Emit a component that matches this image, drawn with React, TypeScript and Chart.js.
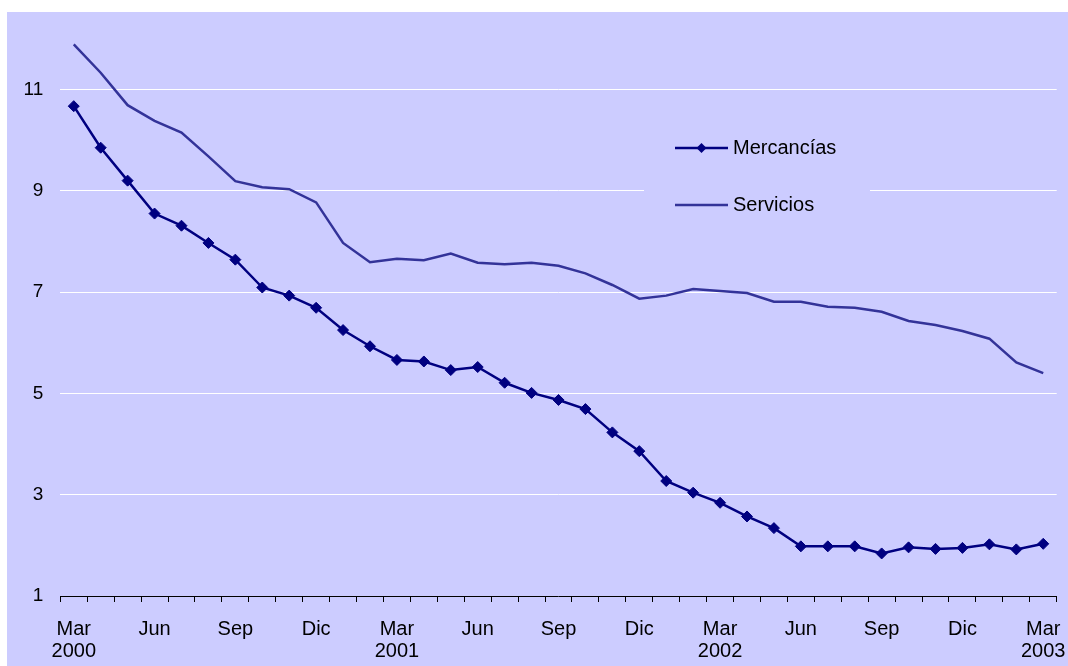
import React, { useEffect, useRef } from "react";
import { Chart, registerables } from "chart.js";

Chart.register(...registerables);

const categories = [
  "Mar 2000", "Abr 2000", "May 2000", "Jun 2000", "Jul 2000", "Ago 2000", "Sep 2000", "Oct 2000", "Nov 2000", "Dic 2000",
  "Ene 2001", "Feb 2001", "Mar 2001", "Abr 2001", "May 2001", "Jun 2001", "Jul 2001", "Ago 2001", "Sep 2001", "Oct 2001", "Nov 2001", "Dic 2001",
  "Ene 2002", "Feb 2002", "Mar 2002", "Abr 2002", "May 2002", "Jun 2002", "Jul 2002", "Ago 2002", "Sep 2002", "Oct 2002", "Nov 2002", "Dic 2002",
  "Ene 2003", "Feb 2003", "Mar 2003",
];

const mercancias = [
  10.67, 9.85, 9.2, 8.55, 8.31, 7.97, 7.64, 7.09, 6.93, 6.69, 6.25, 5.93, 5.66, 5.63, 5.46, 5.52, 5.21, 5.01, 4.87,
  4.69, 4.23, 3.86, 3.27, 3.04, 2.84, 2.57, 2.34, 1.98, 1.98, 1.98, 1.84, 1.96, 1.93, 1.95, 2.02, 1.92, 2.03,
];

const servicios = [
  11.89, 11.33, 10.69, 10.38, 10.15, 9.68, 9.19, 9.07, 9.03, 8.77, 7.97, 7.59, 7.66, 7.63, 7.76, 7.58, 7.55, 7.58, 7.52,
  7.37, 7.14, 6.87, 6.93, 7.06, 7.02, 6.98, 6.81, 6.81, 6.71, 6.69, 6.61, 6.43, 6.35, 6.23, 6.08, 5.61, 5.4,
];

const yTicks = [1, 3, 5, 7, 9, 11];
const yMin = 1;
const yMax = 12;

const BG = "#CCCCFF";
const FONT = '"Liberation Sans", Arial, sans-serif';

const backgroundPlugin = {
  id: "bgPlugin",
  beforeDraw(chart: any) {
    const { ctx, width, height } = chart;
    ctx.save();
    ctx.fillStyle = "#ffffff";
    ctx.fillRect(0, 0, width, height);
    ctx.fillStyle = BG;
    ctx.fillRect(7, 12, width - 7, height - 12);
    ctx.restore();
  },
};

const legendPlugin = {
  id: "customLegend",
  afterDatasetsDraw(chart: any) {
    const { ctx } = chart;
    ctx.save();
    ctx.fillStyle = BG;
    ctx.fillRect(644, 120, 226, 110);
    const items = chart.data.datasets.map((ds: any, i: number) => ({ ds, y: i === 0 ? 148 : 205 }));
    items.forEach(({ ds, y }: any) => {
      ctx.strokeStyle = ds.borderColor;
      ctx.lineWidth = ds.borderWidth;
      ctx.beginPath();
      ctx.moveTo(675, y);
      ctx.lineTo(728, y);
      ctx.stroke();
      if (ds.pointRadius > 0) {
        const cx = 701.5;
        const r = 5;
        ctx.fillStyle = ds.pointBackgroundColor;
        ctx.beginPath();
        ctx.moveTo(cx, y - r);
        ctx.lineTo(cx + r, y);
        ctx.lineTo(cx, y + r);
        ctx.lineTo(cx - r, y);
        ctx.closePath();
        ctx.fill();
      }
      ctx.fillStyle = "#000000";
      ctx.font = `20px ${FONT}`;
      ctx.textBaseline = "middle";
      ctx.textAlign = "left";
      ctx.fillText(ds.label, 733, y);
    });
    ctx.restore();
  },
};

export default function App() {
  const canvasRef = useRef<HTMLCanvasElement | null>(null);

  useEffect(() => {
    if (!canvasRef.current) return;
    const chart = new Chart(canvasRef.current, {
      type: "line",
      data: {
        labels: categories,
        datasets: [
          {
            label: "Mercancías",
            data: mercancias,
            borderColor: "#000080",
            backgroundColor: "#000080",
            borderWidth: 2.5,
            pointStyle: "rectRot",
            pointRadius: 5.5,
            pointBackgroundColor: "#000080",
            pointBorderColor: "#000080",
            pointBorderWidth: 1,
            tension: 0,
          },
          {
            label: "Servicios",
            data: servicios,
            borderColor: "#333399",
            backgroundColor: "#333399",
            borderWidth: 2.5,
            pointRadius: 0,
            tension: 0,
          },
        ],
      },
      options: {
        animation: false,
        responsive: false,
        devicePixelRatio: 1,
        layout: { padding: { left: 0, top: 38.8, right: 11.3, bottom: 0 } },
        plugins: {
          legend: { display: false },
          tooltip: { enabled: false },
        },
        scales: {
          x: {
            type: "category",
            offset: true,
            grid: {
              display: true,
              drawOnChartArea: false,
              drawTicks: true,
              tickLength: 6,
              color: "#000000",
              lineWidth: 1,
              offset: true,
            },
            border: { display: true, color: "#000000", width: 1 },
            ticks: {
              autoSkip: false,
              maxRotation: 0,
              minRotation: 0,
              padding: 16,
              color: "#000000",
              font: { family: FONT, size: 20, lineHeight: 1.12 },
              callback: (_v: any, i: number) => {
                if (i % 3 !== 0) return "";
                const [m, y] = categories[i].split(" ");
                return m === "Mar" ? [m, y] : m;
              },
            },
            afterFit: (scale: any) => {
              scale.height = 70;
              scale.paddingLeft = 0;
              scale.paddingRight = 0;
            },
          },
          y: {
            type: "linear",
            min: yMin,
            max: yMax,
            afterBuildTicks: (scale: any) => {
              scale.ticks = yTicks.map((v) => ({ value: v }));
            },
            grid: {
              display: true,
              drawTicks: false,
              color: (c: any) => (c.tick && c.tick.value === yMin ? "rgba(0,0,0,0)" : "#ffffff"),
              lineWidth: 1,
            },
            border: { display: false },
            ticks: {
              padding: 17,
              color: "#000000",
              font: { family: FONT, size: 19 },
            },
            afterFit: (scale: any) => {
              scale.width = 60.3;
              scale.paddingTop = 0;
              scale.paddingBottom = 0;
            },
          },
        },
      },
      plugins: [backgroundPlugin, legendPlugin],
    });
    return () => chart.destroy();
  }, []);

  return (
    <canvas
      ref={canvasRef}
      width={1068}
      height={666}
      style={{ position: "absolute", left: 0, top: 0, display: "block", width: 1068, height: 666 }}
    />
  );
}
